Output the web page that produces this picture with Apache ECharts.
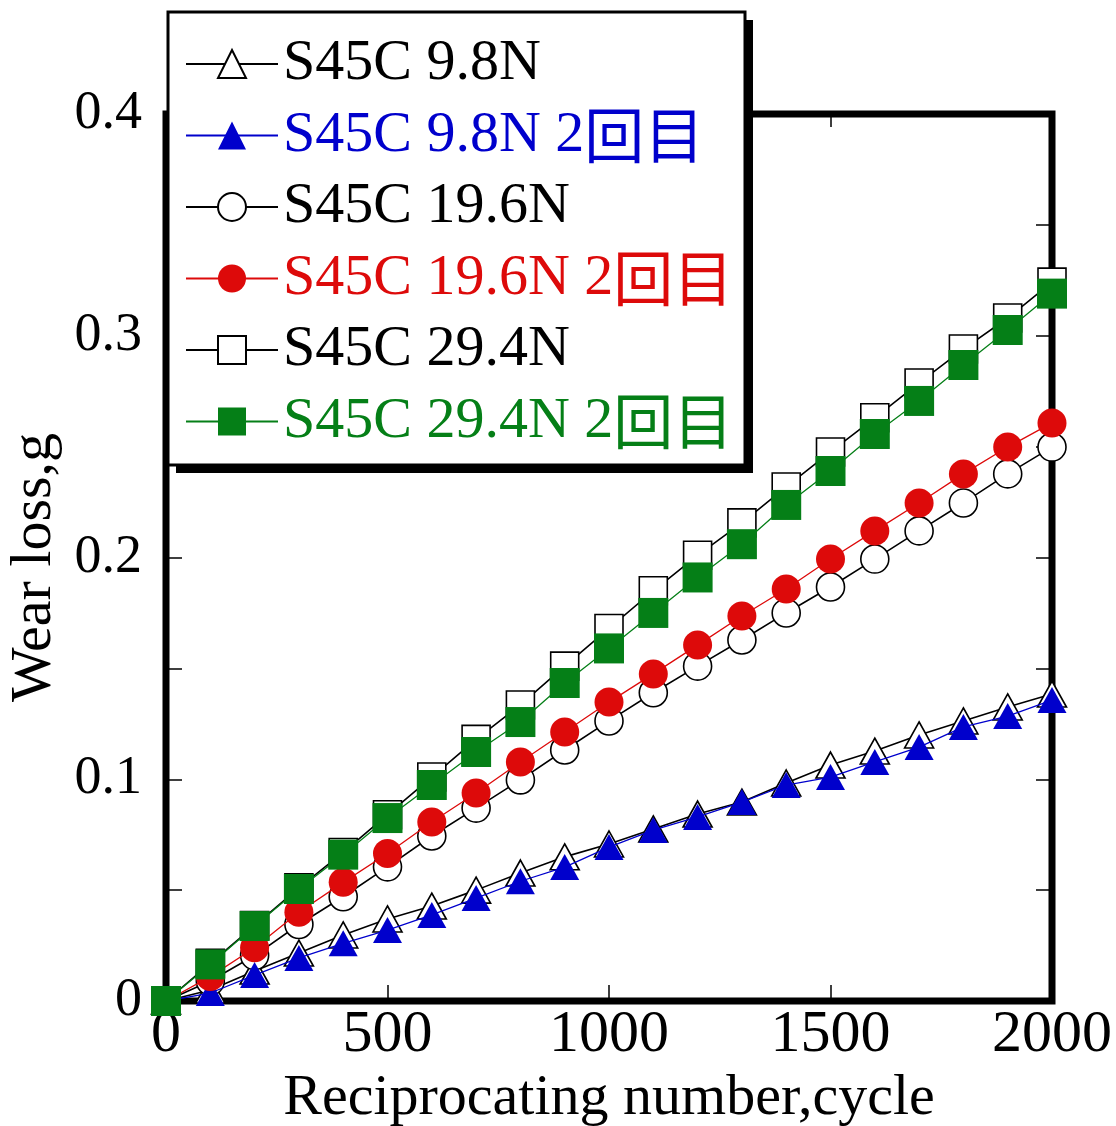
<!DOCTYPE html>
<html>
<head>
<meta charset="utf-8">
<script src="https://cdn.jsdelivr.net/npm/echarts@6/dist/echarts.min.js"></script>
<style>
  html, body { margin: 0; padding: 0; background: #fff; }
  #chart { width: 1116px; height: 1126px; }
</style>
</head>
<body>
<div id="chart"></div>
<script>
// Reciprocating cycles at which wear loss was weighed
const cycles = [0, 100, 200, 300, 400, 500, 600, 700, 800, 900, 1000,
                1100, 1200, 1300, 1400, 1500, 1600, 1700, 1800, 1900, 2000];

// Wear loss (g) for each load, first run and second run (2回目)
const load98 = [0, 0.005, 0.0135, 0.0216, 0.0298, 0.037, 0.0428, 0.050, 0.0577, 0.065, 0.0708,
                0.0776, 0.0843, 0.0897, 0.0983, 0.1064, 0.1127, 0.120, 0.1263, 0.1326, 0.1384];
const load98Second = [0, 0.0036, 0.0117, 0.0194, 0.026, 0.032, 0.0388, 0.0464, 0.054, 0.0604, 0.0694,
                      0.0771, 0.083, 0.0897, 0.0974, 0.101, 0.1078, 0.1145, 0.1236, 0.1285, 0.1357];
const load196 = [0, 0.009, 0.0205, 0.0345, 0.047, 0.0605, 0.0744, 0.087, 0.0997, 0.1132, 0.1263,
                 0.139, 0.151, 0.1628, 0.175, 0.1867, 0.1993, 0.212, 0.2246, 0.2377, 0.2498];
const load196Second = [0, 0.011, 0.024, 0.040, 0.0535, 0.0665, 0.0807, 0.0938, 0.1078, 0.1213, 0.1348,
                       0.1475, 0.1605, 0.1736, 0.1858, 0.1993, 0.212, 0.2246, 0.2377, 0.2498, 0.2607];
const load294 = [0, 0.017, 0.034, 0.051, 0.067, 0.084, 0.101, 0.118, 0.1335, 0.151, 0.168,
                 0.185, 0.201, 0.2156, 0.2318, 0.2476, 0.263, 0.2787, 0.294, 0.308, 0.3242];
const load294Second = [0, 0.0165, 0.0338, 0.0505, 0.066, 0.0825, 0.0974, 0.1123, 0.1258, 0.1434, 0.159,
                       0.175, 0.191, 0.206, 0.2237, 0.239, 0.2557, 0.2706, 0.2868, 0.3026, 0.319];

const seriesNames = ['S45C 9.8N', 'S45C 9.8N 2回目', 'S45C 19.6N',
                     'S45C 19.6N 2回目', 'S45C 29.4N', 'S45C 29.4N 2回目'];

const xTicks = [0, 500, 1000, 1500, 2000];
const yTicks = [0, 0.1, 0.2, 0.3, 0.4];

const FONT = "'Liberation Serif', 'Times New Roman', 'Noto Sans CJK JP', serif";
const CJK_FONT = "'Noto Sans CJK JP', sans-serif";
const BLUE = '#0000CC';
const RED = '#DD0A0A';
const GREEN = '#057F17';

function pairs(values) {
  return cycles.map((c, i) => [c, values[i]]);
}

function openSeries(name, values, symbol, size) {
  return {
    name, type: 'line', data: pairs(values),
    symbol, symbolSize: size,
    itemStyle: { color: '#fff', borderColor: '#000', borderWidth: 1.6 },
    lineStyle: { color: '#000', width: 1.6 },
    emphasis: { disabled: true },
    z: 2
  };
}

function filledSeries(name, values, symbol, size, color) {
  return {
    name, type: 'line', data: pairs(values),
    symbol, symbolSize: size,
    itemStyle: { color, borderWidth: 0 },
    lineStyle: { color, width: 1.3 },
    emphasis: { disabled: true },
    z: 3
  };
}

const textColors = ['#000', BLUE, '#000', RED, '#000', GREEN];

const tickStyle = { color: '#000', width: 1.5 };
// Axes stay on the frame edges instead of jumping to the other axis's zero
const hiddenLine = { show: false, onZero: false };

// Legend frame: white box with a solid offset shadow
const LEGEND_BOX = { x: 168, y: 12, width: 577, height: 453 };
const SHADOW_OFFSET = 8;

const chart = echarts.init(document.getElementById('chart'), null, { renderer: 'canvas' });

chart.setOption({
  animation: false,
  backgroundColor: '#fff',
  grid: {
    left: 166, right: 64, top: 114, bottom: 125,
    outerBoundsMode: 'none',
    show: true, borderColor: '#000', borderWidth: 7, backgroundColor: 'transparent'
  },
  xAxis: [{
    type: 'value', position: 'bottom', min: 0, max: 2000, interval: 500,
    axisLine: hiddenLine,
    axisTick: { show: true, inside: true, length: 16, lineStyle: tickStyle },
    splitLine: { show: false },
    axisLabel: {
      margin: 4, color: '#000', fontFamily: FONT, fontSize: 60,
      customValues: xTicks,
      formatter: v => String(v)
    },
    name: 'Reciprocating number,cycle',
    nameLocation: 'middle', nameGap: 46,
    nameTextStyle: { color: '#000', fontFamily: FONT, fontSize: 58 }
  }, {
    type: 'value', position: 'top', min: 0, max: 2000, interval: 500,
    axisLine: hiddenLine,
    axisTick: { show: true, inside: true, length: 13, lineStyle: tickStyle },
    splitLine: { show: false },
    axisLabel: { show: false }
  }],
  yAxis: [{
    type: 'value', position: 'left', min: 0, max: 0.4, interval: 0.1,
    axisLine: hiddenLine,
    axisTick: { show: true, inside: true, length: 16, lineStyle: tickStyle },
    minorTick: { show: true, splitNumber: 2, length: 16, lineStyle: tickStyle },
    splitLine: { show: false },
    minorSplitLine: { show: false },
    axisLabel: {
      margin: 24, color: '#000', fontFamily: FONT, fontSize: 54,
      customValues: yTicks
    },
    name: 'Wear loss,g',
    nameLocation: 'middle', nameGap: 102, nameRotate: 90,
    nameTextStyle: { color: '#000', fontFamily: FONT, fontSize: 58, padding: [0, 20, 0, 0] }
  }, {
    type: 'value', position: 'right', min: 0, max: 0.4, interval: 0.1,
    axisLine: hiddenLine,
    axisTick: { show: true, inside: true, length: 16, lineStyle: tickStyle },
    minorTick: { show: true, splitNumber: 2, length: 16, lineStyle: tickStyle },
    splitLine: { show: false },
    minorSplitLine: { show: false },
    axisLabel: { show: false }
  }],
  graphic: [{
    type: 'rect', z: 20, silent: true,
    shape: {
      x: LEGEND_BOX.x + SHADOW_OFFSET, y: LEGEND_BOX.y + SHADOW_OFFSET,
      width: LEGEND_BOX.width, height: LEGEND_BOX.height
    },
    style: { fill: '#000' }
  }, {
    type: 'rect', z: 21, silent: true,
    shape: { x: LEGEND_BOX.x, y: LEGEND_BOX.y, width: LEGEND_BOX.width, height: LEGEND_BOX.height },
    style: { fill: '#fff', stroke: '#000', lineWidth: 3 }
  }],
  legend: {
    orient: 'vertical', left: LEGEND_BOX.x, top: LEGEND_BOX.y,
    padding: [22, 0, 0, 17],
    itemWidth: 92, itemHeight: 35, itemGap: 11.5,
    selectedMode: false,
    textStyle: {
      fontFamily: FONT, fontSize: 58, lineHeight: 60,
      rich: { k: { fontFamily: CJK_FONT, fontSize: 60, lineHeight: 60 } }
    },
    formatter: name => name.replace('回目', '{k|回目}'),
    data: seriesNames.map((n, i) => ({ name: n, textStyle: { color: textColors[i] } })),
    z: 30
  },
  series: [
    openSeries(seriesNames[0], load98, 'triangle', [29, 26]),
    filledSeries(seriesNames[1], load98Second, 'triangle', [29, 26], BLUE),
    openSeries(seriesNames[2], load196, 'circle', 28),
    filledSeries(seriesNames[3], load196Second, 'circle', 29, RED),
    openSeries(seriesNames[4], load294, 'rect', 28),
    filledSeries(seriesNames[5], load294Second, 'rect', 30, GREEN)
  ]
});
</script>
</body>
</html>
